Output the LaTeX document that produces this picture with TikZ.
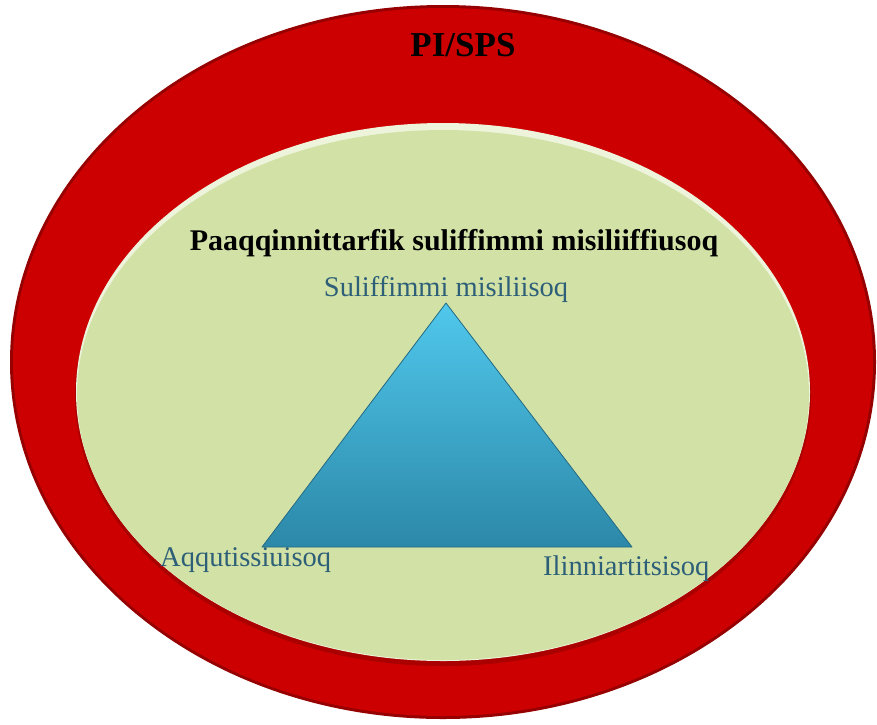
\documentclass[tikz,border=0pt]{standalone}
\usepackage{fontspec}
\setmainfont{Liberation Serif}
\definecolor{ringred}{RGB}{204,0,0}
\definecolor{ringdark}{RGB}{150,0,0}
\definecolor{innergreen}{RGB}{210,226,166}
\definecolor{labelteal}{RGB}{45,95,120}
\definecolor{tritop}{RGB}{80,200,236}
\definecolor{tribot}{RGB}{44,136,168}
\definecolor{triedge}{RGB}{35,105,130}
\tikzset{
  titletext/.style={font=\bfseries\fontsize{35}{40}\selectfont, text=black, inner sep=0pt, anchor=base},
  subtitletext/.style={font=\bfseries\fontsize{30}{34}\selectfont, text=black, inner sep=0pt, anchor=base},
  cornertext/.style={font=\fontsize{28.5}{32}\selectfont, text=labelteal, inner sep=0pt, anchor=base},
}
\begin{document}
\begin{tikzpicture}[x=1pt,y=-1pt]
\useasboundingbox (0,0) rectangle (877,724);
\fill[white] (0,0) rectangle (877,724);
% outer ring
\fill[ringdark] (443,362) ellipse [x radius=433pt, y radius=357pt];
\fill[ringred] (443,362) ellipse [x radius=430pt, y radius=354pt];
% shadow of inner ellipse
\fill[ringdark, opacity=0.6] (443,396) ellipse [x radius=368pt, y radius=270pt];
% inner ellipse
\fill[white!60!innergreen] (443,392) ellipse [x radius=367pt, y radius=269pt];
\fill[innergreen] (443,395) ellipse [x radius=366pt, y radius=265pt];
% triangle
\coordinate (apex) at (446,303);
\coordinate (bl) at (262,547);
\coordinate (br) at (632,547);
\shade[top color=tritop, bottom color=tribot] (apex) -- (bl) -- (br) -- cycle;
\draw[triedge, line width=0.8pt, line join=round] (apex) -- (bl) -- (br) -- cycle;
% texts
\node[titletext] (pisps) at (463,56) {PI/SPS};
\node[subtitletext] (sub) at (454,250) {Paaqqinnittarfik suliffimmi misiliiffiusoq};
\node[cornertext] (top) at (446,296) {Suliffimmi misiliisoq};
\node[cornertext, anchor=base west] (left) at (160,566) {Aqqutissiuisoq};
\node[cornertext, anchor=base west] (right) at (543,575) {Ilinniartitsisoq};
\end{tikzpicture}
\end{document}
